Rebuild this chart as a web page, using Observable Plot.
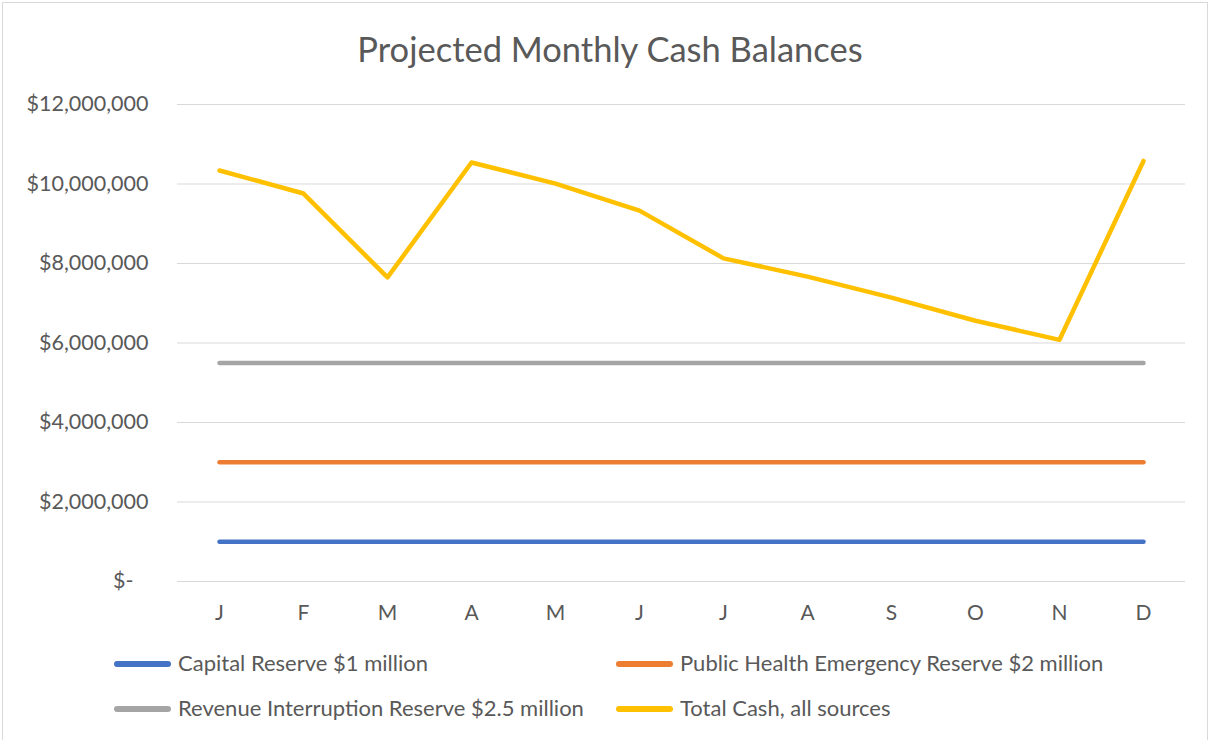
<!DOCTYPE html>
<html>
<head>
<meta charset="utf-8">
<script src="https://cdn.jsdelivr.net/npm/d3@7"></script>
<script src="https://cdn.jsdelivr.net/npm/@observablehq/plot@0.6"></script>
<style>
  html, body { margin: 0; padding: 0; background: #fff; }
  #wrap { position: relative; width: 1210px; height: 740px; overflow: hidden; font-family: Lato, "Open Sans", sans-serif; color: #595959; }
  #frame { position: absolute; left: 2px; top: 2px; width: 1206px; height: 750px; border: 1px solid #d9d9d9; box-sizing: border-box; }
  #title { position: absolute; left: 5px; width: 1210px; top: 28px; text-align: center; font-size: 34.5px; line-height: 42px; }
  #chart { position: absolute; left: 0; top: 0; }
  .leg { position: absolute; font-size: 22px; line-height: 26px; white-space: nowrap; }
  .sw { position: absolute; height: 5.5px; width: 57px; border-radius: 3px; }
</style>
</head>
<body>
<div id="wrap">
  <div id="frame"></div>
  <div id="title">Projected Monthly Cash Balances</div>
  <div id="chart"></div>
  <div id="legend"></div>
</div>
<script>
const months = ["J","F","M","A","M","J","J","A","S","O","N","D"];
const seriesNames = [
  "Capital Reserve $1 million",
  "Public Health Emergency Reserve $2 million",
  "Revenue Interruption Reserve $2.5 million",
  "Total Cash, all sources"
];
const seriesColors = ["#4472C4", "#ED7D31", "#A5A5A5", "#FFC000"];
const capitalReserve = [1000000,1000000,1000000,1000000,1000000,1000000,1000000,1000000,1000000,1000000,1000000,1000000];
const publicHealthReserve = [3000000,3000000,3000000,3000000,3000000,3000000,3000000,3000000,3000000,3000000,3000000,3000000];
const revenueReserve = [5500000,5500000,5500000,5500000,5500000,5500000,5500000,5500000,5500000,5500000,5500000,5500000];
const totalCash = [10340000,9760000,7650000,10540000,10010000,9330000,8130000,7670000,7140000,6560000,6080000,10580000];
const yTicks = [0,2000000,4000000,6000000,8000000,10000000,12000000];

const allValues = [capitalReserve, publicHealthReserve, revenueReserve, totalCash];
const rows = [];
allValues.forEach((arr, s) => arr.forEach((v, i) => rows.push({series: seriesNames[s], i, v})));

const fmt = v => v === 0 ? "$-" : "$" + d3.format(",")(v);

const chart = Plot.plot({
  width: 1210,
  height: 640,
  marginLeft: 177,
  marginRight: 25,
  marginTop: 104,
  marginBottom: 59,
  style: {fontFamily: "Lato, 'Open Sans', sans-serif", color: "#595959", background: "transparent"},
  x: {type: "point", domain: d3.range(12), padding: 0.5, axis: null, label: null},
  y: {domain: [0, 12000000], axis: null, label: null},
  color: {domain: seriesNames, range: seriesColors},
  marks: [
    Plot.ruleY(yTicks, {stroke: "#d9d9d9", strokeWidth: 1.2}),
    Plot.axisX({tickSize: 0, tickPadding: 24, tickFormat: i => months[i], fontSize: 21, fill: "#595959", label: null}),
    Plot.text(yTicks.filter(d => d !== 0), {y: d => d, text: fmt, frameAnchor: "left", dx: -29, textAnchor: "end", fontSize: 21.5, fill: "#595959"}),
    Plot.text(yTicks.filter(d => d === 0), {y: d => d, text: fmt, frameAnchor: "left", dx: -44, textAnchor: "end", fontSize: 21.5, fill: "#595959"}),
    Plot.line(rows, {x: "i", y: "v", z: "series", stroke: "series", strokeWidth: 4.5, strokeLinecap: "round", strokeLinejoin: "round"})
  ]
});
document.getElementById("chart").appendChild(chart);

// legend
const legendPos = [[114, 664], [616, 664], [114, 709], [616, 709]];
const leg = document.getElementById("legend");
seriesNames.forEach((name, k) => {
  const [lx, ly] = legendPos[k];
  const sw = document.createElement("div");
  sw.className = "sw";
  sw.style.left = lx + "px";
  sw.style.top = (ly - 2.75) + "px";
  sw.style.background = seriesColors[k];
  leg.appendChild(sw);
  const t = document.createElement("div");
  t.className = "leg";
  t.style.left = (lx + 64) + "px";
  t.style.top = (ly - 14) + "px";
  t.textContent = name;
  leg.appendChild(t);
});
</script>
</body>
</html>
